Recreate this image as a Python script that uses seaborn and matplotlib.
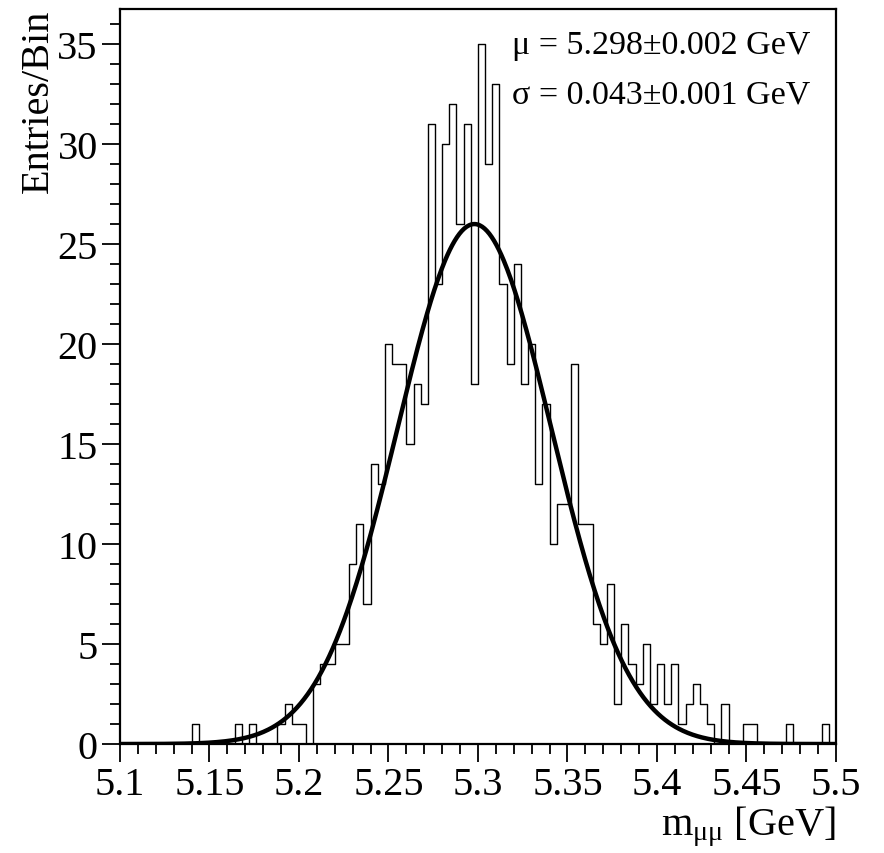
import numpy as np
import pandas as pd
import matplotlib
matplotlib.use("Agg")
import matplotlib.pyplot as plt
import seaborn as sns
from matplotlib.ticker import MultipleLocator

# histogram: 100 bins of 4 MeV between 5.1 and 5.5 GeV
x_lo, x_hi, n_bins = 5.1, 5.5, 100
counts = [0, 0, 0, 0, 0, 0, 0, 0, 0, 0,
          1, 0, 0, 0, 0, 0, 1, 0, 1, 0,
          0, 0, 1, 2, 1, 1, 0, 3, 4, 4,
          5, 5, 9, 11, 7, 14, 13, 20, 19, 19,
          15, 18, 17, 31, 23, 30, 32, 26, 31, 18,
          35, 29, 33, 23, 19, 24, 18, 20, 13, 17,
          10, 12, 12, 19, 11, 11, 6, 5, 8, 2,
          6, 4, 3, 5, 2, 4, 2, 4, 1, 2,
          3, 2, 1, 0, 2, 0, 0, 1, 1, 0,
          0, 0, 0, 1, 0, 0, 0, 0, 1, 0]

# gaussian fit result
fit_const = 26.0
fit_mean = 5.298
fit_sigma = 0.043
stat_lines = ["\u03bc = 5.298\u00b10.002 GeV", "\u03c3 = 0.043\u00b10.001 GeV"]

edges = np.linspace(x_lo, x_hi, n_bins + 1)
centers = 0.5 * (edges[:-1] + edges[1:])
df = pd.DataFrame({"mass": centers, "entries": counts})

xs = np.linspace(x_lo, x_hi, 600)
fit = pd.DataFrame({"mass": xs,
                    "y": fit_const * np.exp(-0.5 * ((xs - fit_mean) / fit_sigma) ** 2)})

sns.set_style("ticks", {"axes.edgecolor": "black", "xtick.color": "black",
                        "ytick.color": "black", "text.color": "black",
                        "axes.labelcolor": "black"})
plt.rcParams["font.family"] = ["Liberation Serif", "DejaVu Serif"]
plt.rcParams["mathtext.fontset"] = "custom"
plt.rcParams["mathtext.rm"] = "Liberation Serif"
plt.rcParams["mathtext.it"] = "Liberation Serif:italic"

fig = plt.figure(figsize=(8.84, 8.54), dpi=100)
ax = fig.add_axes([0.1357, 0.1276, 0.81, 0.8606])

sns.histplot(data=df, x="mass", weights="entries", bins=n_bins,
             binrange=(x_lo, x_hi), element="step", fill=False,
             color="black", linewidth=1.0, ax=ax)
sns.lineplot(data=fit, x="mass", y="y", color="black", linewidth=3.2, ax=ax)

ax.set_xlim(x_lo, x_hi)
ax.set_ylim(0, 1.05 * max(counts))

ax.xaxis.set_major_locator(MultipleLocator(0.05))
ax.xaxis.set_minor_locator(MultipleLocator(0.01))
ax.yaxis.set_major_locator(MultipleLocator(5))
ax.yaxis.set_minor_locator(MultipleLocator(1))
ax.xaxis.set_major_formatter(matplotlib.ticker.FuncFormatter(lambda v, p: f"{v:g}"))

ax.tick_params(which="major", direction="out", length=13, width=1.3,
               labelsize=29, pad=3, colors="black")
ax.tick_params(which="minor", direction="out", length=7, width=1.3, colors="black")
for s in ax.spines.values():
    s.set_linewidth(1.6)
    s.set_color("black")
    s.set_visible(True)

ax.set_ylabel("Entries/Bin", fontsize=29, loc="top", labelpad=0, color="black")
ax.set_xlabel("m$_{\\mathrm{\u03bc\u03bc}}$ [GeV]", fontsize=29, loc="right",
              labelpad=0, color="black")

ax.text(0.547, 0.952, stat_lines[0], transform=ax.transAxes,
        fontsize=24.5, va="center", ha="left", color="black")
ax.text(0.547, 0.884, stat_lines[1], transform=ax.transAxes,
        fontsize=24.5, va="center", ha="left", color="black")

fig.savefig("out.png", dpi=100)
